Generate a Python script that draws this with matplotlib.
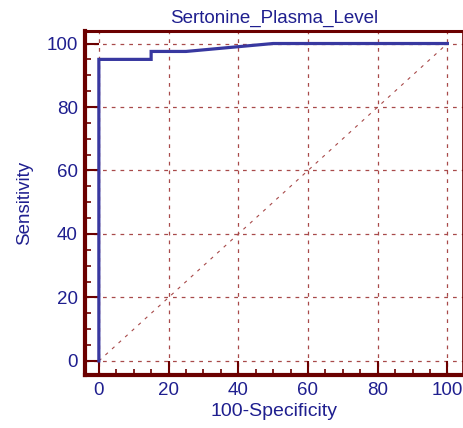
import matplotlib
matplotlib.use("Agg")
import matplotlib.pyplot as plt
import numpy as np

plt.rcParams['font.family'] = ['Liberation Sans', 'DejaVu Sans']

# ROC curve
fpr = [0, 0, 15, 15, 25, 30, 35, 40, 45, 50, 100]
tpr = [0, 95, 95, 97.5, 97.5, 98, 98.5, 99, 99.5, 100, 100]
ticks = [0, 20, 40, 60, 80, 100]

title = "Sertonine_Plasma_Level"
xlab = "100-Specificity"
ylab = "Sensitivity"

navy = '#1f1f8f'
frame = '#6b0000'
grid_c = '#a84a4a'

fig = plt.figure(figsize=(4.64, 4.28), dpi=100)
ax = fig.add_axes([0.183, 0.124, 0.815, 0.804])

ax.set_xlim(-4, 104.5)
ax.set_ylim(-4.4, 104)

for t in ticks:
    ax.axvline(t, color=grid_c, lw=0.9, ls=(0, (3, 4)), zorder=1)
    ax.axhline(t, color=grid_c, lw=0.9, ls=(0, (3, 4)), zorder=1)

ax.plot([0, 100], [0, 100], color=grid_c, lw=0.8, ls=(0, (3, 5)), zorder=2)
ax.plot(fpr, tpr, color='#3838a0', lw=2.3, zorder=3, solid_joinstyle='miter')

ax.set_xticks(ticks)
ax.set_yticks(ticks)
ax.set_xticks(np.arange(0, 101, 5), minor=True)
ax.set_yticks(np.arange(0, 101, 5), minor=True)
ax.tick_params(which='major', direction='in', length=10, width=1.5, color=frame,
               labelsize=13.5, labelcolor=navy, pad=5)
ax.tick_params(which='minor', direction='in', length=4.5, width=1.2, color=frame)
ax.tick_params(top=False, right=False, which='both')

for side, w in [('left', 3), ('bottom', 3), ('top', 2.2), ('right', 1.2)]:
    ax.spines[side].set_color(frame)
    ax.spines[side].set_linewidth(w)

ax.set_title(title, color=navy, fontsize=13.5, pad=6)
ax.set_xlabel(xlab, color=navy, fontsize=14, labelpad=3)
ax.set_ylabel(ylab, color=navy, fontsize=13.5, labelpad=10)

fig.savefig("out.png", dpi=100)
